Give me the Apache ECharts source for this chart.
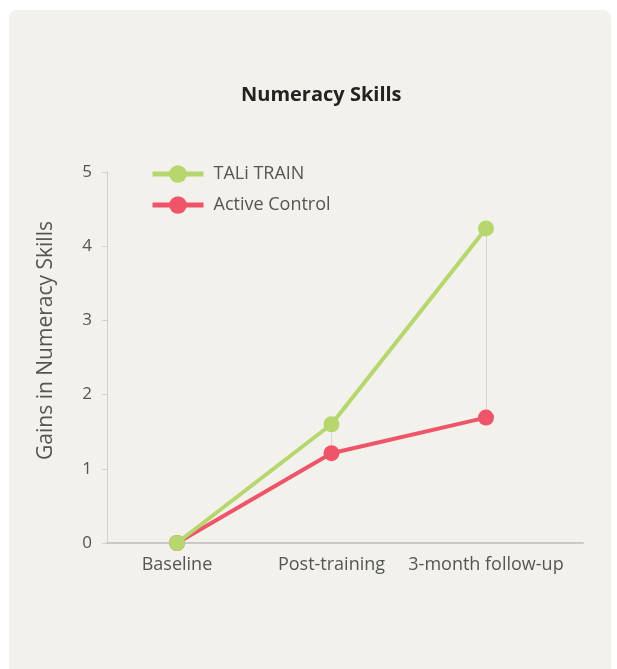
<!DOCTYPE html>
<html>
<head>
<meta charset="utf-8">
<script src="https://cdn.jsdelivr.net/npm/echarts@6/dist/echarts.min.js"></script>
<style>
  html, body { margin: 0; padding: 0; background: #ffffff; }
  .card {
    position: absolute;
    left: 9px; top: 10px;
    width: 602px; height: 700px;
    background: #f2f1ec;
    border-radius: 8px;
  }
  #chart { position: absolute; left: 0; top: 0; width: 617px; height: 669px; }
</style>
</head>
<body>
<div class="card"></div>
<div id="chart"></div>
<script>
// data
const categories = ["Baseline", "Post-training", "3-month follow-up"];
const taliTrain = [0, 1.6, 4.24];
const activeControl = [0, 1.21, 1.69];
const yTicks = [0, 1, 2, 3, 4, 5];

const GREEN = "#b6d66e";
const RED = "#ef5569";
const FONT = "'Open Sans', 'Noto Sans', sans-serif";

// x positions as category index, so the drop lines can be drawn between series
const pairs = (arr) => arr.map((v, i) => [i, v]);

// light grey connectors between the two groups (skip baseline where they coincide)
const gapLines = categories
  .map((c, i) => [
    { coord: [i, taliTrain[i]] },
    { coord: [i, activeControl[i]] },
  ])
  .filter((p, i) => taliTrain[i] !== activeControl[i]);

const chart = echarts.init(document.getElementById("chart"));
chart.setOption({
  backgroundColor: "transparent",
  textStyle: { fontFamily: FONT },
  title: {
    text: "Numeracy Skills",
    left: 236,
    top: 80,
    textStyle: { fontFamily: FONT, fontSize: 20, fontWeight: "bold", color: "#222" },
  },
  legend: {
    orient: "vertical",
    left: 145,
    top: 160,
    itemWidth: 51,
    itemHeight: 22,
    itemGap: 13,
    lineStyle: { width: 5 },
    textStyle: { fontFamily: FONT, fontSize: 18, color: "#555", padding: [0, 0, 0, 5] },
    data: ["TALi TRAIN", "Active Control"],
  },
  grid: { left: 107, right: 34, top: 172, bottom: 126 },
  xAxis: {
    type: "value",
    min: -0.453,
    max: 2.628,
    splitLine: { show: false },
    axisTick: { show: false },
    axisLine: { show: true, onZero: false, lineStyle: { color: "#c9c9c9", width: 2 } },
    axisLabel: {
      customValues: categories.map((c, i) => i),
      formatter: (v) => categories[Math.round(v)],
      color: "#555",
      fontSize: 18,
      fontFamily: FONT,
      margin: 13,
    },
  },
  yAxis: {
    type: "value",
    min: yTicks[0],
    max: yTicks[yTicks.length - 1],
    interval: 1,
    name: "Gains in Numeracy Skills",
    nameLocation: "middle",
    nameGap: 50,
    nameTextStyle: { fontFamily: FONT, fontSize: 21, color: "#555", padding: [0, 0, 0, 34] },
    axisLine: { show: true, onZero: false, lineStyle: { color: "#cfcfcf", width: 1 } },
    axisTick: { show: true, length: 5, lineStyle: { color: "#cfcfcf" } },
    axisLabel: { color: "#555", fontSize: 17, fontFamily: FONT, margin: 15 },
    splitLine: { show: false },
  },
  series: [
    {
      name: "Active Control",
      type: "line",
      data: pairs(activeControl),
      color: RED,
      symbol: "circle",
      symbolSize: 16,
      lineStyle: { width: 4, color: RED },
      itemStyle: { color: RED },
      z: 3,
    },
    {
      name: "TALi TRAIN",
      type: "line",
      data: pairs(taliTrain),
      color: GREEN,
      symbol: "circle",
      symbolSize: 16,
      lineStyle: { width: 4, color: GREEN },
      itemStyle: { color: GREEN },
      z: 4,
      markLine: {
        silent: true,
        symbol: "none",
        label: { show: false },
        lineStyle: { color: "#d6d6d6", width: 1, type: "solid" },
        data: gapLines,
        z: 1,
      },
    },
  ],
});
</script>
</body>
</html>
